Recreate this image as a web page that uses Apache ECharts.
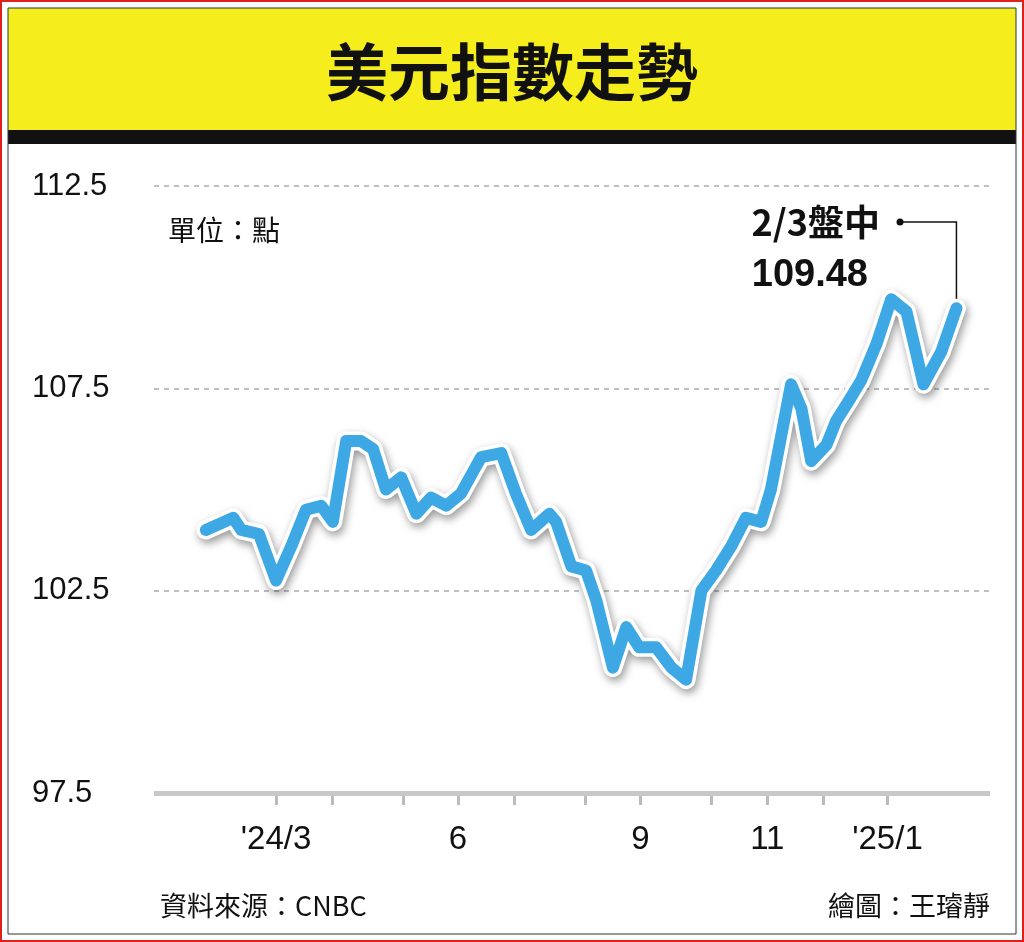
<!DOCTYPE html>
<html><head><meta charset="utf-8">
<script src="https://cdn.jsdelivr.net/npm/echarts@6/dist/echarts.min.js"></script>
<style>html,body{margin:0;padding:0;background:#fff}#c{width:1024px;height:942px}</style>
</head><body><div id="c"></div>
<script>
// x in month units (2 = Mar 2024 tick, 12 = Jan 2025 tick)
const xMonths = [0.85,1.30,1.43,1.72,2.0,2.25,2.49,2.74,2.93,3.15,3.39,3.59,3.80,4.05,4.30,4.54,4.79,5.03,5.36,5.69,5.93,6.18,6.48,6.59,6.84,7.08,7.25,7.52,7.74,7.95,8.23,8.48,8.72,8.97,9.21,9.46,9.70,9.95,10.11,10.44,10.61,10.77,11.02,11.18,11.39,11.59,11.84,12.08,12.33,12.61,12.90,13.15];
const dxyValues = [104.0,104.3,104.0,103.9,102.75,103.6,104.5,104.6,104.2,106.2,106.2,106.0,105.0,105.3,104.4,104.8,104.6,104.9,105.8,105.9,104.9,104.0,104.4,104.2,103.1,103.0,102.25,100.6,101.6,101.1,101.1,100.6,100.3,102.5,103.0,103.6,104.3,104.2,105.0,107.6,107.0,105.7,106.1,106.7,107.2,107.7,108.6,109.7,109.4,107.6,108.4,109.48];
const tickPositions = [2,2.92,4.08,4.98,5.90,7.06,7.97,9.13,10.05,10.97,12.02];
const labelPositions = [2,4.98,7.97,10.05,12.02];
const tickLabels = ["'24/3","6","9","11","'25/1"];
const lastLabel = ['2/3盤中','109.48'];

const pts = xMonths.map((x,i)=>[x,dxyValues[i]]);
const chart = echarts.init(document.getElementById('c'));
const F = '"Liberation Sans Narrow","Liberation Sans",sans-serif';
const CJK = '"Noto Sans CJK TC",sans-serif';
chart.setOption({
  animation:false,
  backgroundColor:'#fff',
  grid:{left:154,right:34,top:186,bottom:149},
  xAxis:{type:'value',min:0,max:13.7,
    axisLine:{show:false},splitLine:{show:false},
    axisTick:{show:true,customValues:tickPositions,length:12,inside:false,lineStyle:{color:'#bbb',width:3}},
    axisLabel:{customValues:labelPositions,formatter:v=>{const i=labelPositions.findIndex(p=>Math.abs(p-v)<1e-6);return i>=0?tickLabels[i]:'';},
      fontSize:33,color:'#111',fontFamily:F,margin:30}},
  yAxis:{type:'value',min:97.5,max:112.5,interval:5,
    axisLine:{show:false},axisTick:{show:false},
    axisLabel:{formatter:v=>v.toFixed(1),fontSize:31,color:'#111',fontFamily:F,align:'left',margin:122},
    splitLine:{lineStyle:{color:'#aaa',type:[5,5],width:1.5}}},
  series:[
    {type:'line',data:pts,symbol:'none',z:2,lineStyle:{color:'#fff',width:19,cap:'round',join:'round',shadowColor:'rgba(0,0,0,0.4)',shadowBlur:8,shadowOffsetX:2,shadowOffsetY:4},silent:true,
     markLine:{silent:true,symbol:'none',label:{show:false},lineStyle:{color:'#c8c8c8',type:'solid',width:5},data:[{yAxis:97.5}]}},
    {type:'line',data:pts,symbol:'none',z:3,lineStyle:{color:'#3ea8e4',width:12,cap:'round',join:'round'}}
  ]
});
const end = chart.convertToPixel({gridIndex:0},pts[pts.length-1]);
chart.setOption({graphic:[
    {type:'rect',shape:{x:1,y:1,width:1022,height:940},style:{fill:'none',stroke:'#e0201b',lineWidth:2}},
    {type:'rect',shape:{x:8,y:8,width:1008,height:124},style:{fill:'#f6ee1c'}},
    {type:'rect',shape:{x:8,y:130,width:1008,height:14},style:{fill:'#111'}},
    {type:'rect',shape:{x:8,y:8,width:1008,height:926},style:{fill:'none',stroke:'#333',lineWidth:1}},
    {type:'text',x:512,y:72,style:{text:'美元指數走勢',font:'bold 62px '+CJK,fill:'#111',align:'center',verticalAlign:'middle'}},
    {type:'text',x:168,y:230,style:{text:'單位：點',font:'28px '+CJK,fill:'#111',verticalAlign:'middle'}},
    {type:'text',x:160,y:906,style:{text:'資料來源：CNBC',font:'27px '+CJK,fill:'#111',verticalAlign:'middle'}},
    {type:'text',x:990,y:906,style:{text:'繪圖：王璿靜',font:'27px '+CJK,fill:'#111',align:'right',verticalAlign:'middle'}},
    {type:'text',x:880,y:222,style:{text:lastLabel[0],font:'bold 36px '+CJK,fill:'#111',align:'right',verticalAlign:'middle'}},
    {type:'text',x:868,y:276,style:{text:lastLabel[1],font:'bold 38px "Liberation Sans",sans-serif',fill:'#111',align:'right',verticalAlign:'middle'}},
    {type:'circle',shape:{cx:900,cy:222,r:3.5},style:{fill:'#111'}},
    {type:'polyline',shape:{points:[[900,222],[end[0],222],[end[0],end[1]]]},style:{stroke:'#111',lineWidth:1.5,fill:'none'},z:1}
]});
</script></body></html>
